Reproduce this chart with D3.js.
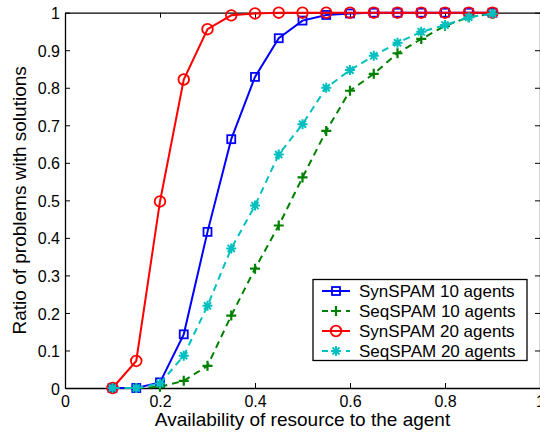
<!DOCTYPE html>
<html><head><meta charset="utf-8">
<script src="https://cdn.jsdelivr.net/npm/d3@7"></script>
<style>
html,body{margin:0;padding:0;background:#fff;}
svg{display:block;font-family:"Liberation Sans",Arial,Helvetica,sans-serif;}
</style></head>
<body><svg id="c" width="540" height="432"></svg>
<script>
const xValues = [0.1,0.15,0.2,0.25,0.3,0.35,0.4,0.45,0.5,0.55,0.6,0.65,0.7,0.75,0.8,0.85,0.9];
const synSpam10 = [0,0,0.015,0.143,0.416,0.663,0.829,0.932,0.979,0.994,0.998,1,1,1,1,1,1];
const seqSpam10 = [0,0,0.003,0.019,0.059,0.193,0.318,0.433,0.561,0.685,0.792,0.837,0.892,0.930,0.965,0.988,0.997];
const synSpam20 = [0,0.072,0.497,0.822,0.956,0.993,0.998,1,1,1,1,1,1,1,1,1,1];
const seqSpam20 = [0,0,0.012,0.086,0.219,0.372,0.486,0.622,0.703,0.800,0.847,0.885,0.920,0.949,0.967,0.988,0.997];
const seriesNames = ["SynSPAM 10 agents","SeqSPAM 10 agents","SynSPAM 20 agents","SeqSPAM 20 agents"];
const xTicks = [0,0.2,0.4,0.6,0.8,1];
const yTicks = [0,0.1,0.2,0.3,0.4,0.5,0.6,0.7,0.8,0.9,1];
const xLabel = "Availability of resource to the agent";
const yLabel = "Ratio of problems with solutions";

const series = [
  {name: seriesNames[0], values: synSpam10, color: "#0000ff", dash: null, marker: "square"},
  {name: seriesNames[1], values: seqSpam10, color: "#008000", dash: "7,5", marker: "plus"},
  {name: seriesNames[2], values: synSpam20, color: "#ff0000", dash: null, marker: "circle"},
  {name: seriesNames[3], values: seqSpam20, color: "#00bfbf", dash: "7,5", marker: "star"}
];

const L = 65, R = 540, T = 12.7, B = 388;
const svg = d3.select("#c");
const x = d3.scaleLinear().domain([0,1]).range([L,R]);
const y = d3.scaleLinear().domain([0,1]).range([B,T]);

const fmt = d => d === 0 ? "0" : d === 1 ? "1" : d3.format(".1f")(d);
const tickLen = 5;

// axes (inward ticks, MATLAB-style box)
const gx = svg.append("g").attr("transform", `translate(0,${B})`)
  .call(d3.axisBottom(x).tickValues(xTicks).tickFormat(fmt).tickSizeInner(-tickLen).tickSizeOuter(0).tickPadding(8));
const gxt = svg.append("g").attr("transform", `translate(0,${T})`)
  .call(d3.axisTop(x).tickValues(xTicks).tickFormat("").tickSizeInner(-tickLen).tickSizeOuter(0));
const gy = svg.append("g").attr("transform", `translate(${L},0)`)
  .call(d3.axisLeft(y).tickValues(yTicks).tickFormat(fmt).tickSizeInner(-tickLen).tickSizeOuter(0).tickPadding(5));
const gyr = svg.append("g").attr("transform", `translate(${R},0)`)
  .call(d3.axisRight(y).tickValues(yTicks).tickFormat("").tickSizeInner(-tickLen).tickSizeOuter(0));
[gx,gxt,gy,gyr].forEach(g => {
  g.selectAll("path").attr("stroke","#000").attr("stroke-width",1.3);
  g.selectAll("line").attr("stroke","#000").attr("stroke-width",1);
  g.selectAll("text").attr("fill","#000").style("font-size","16px").style("font-family","'Liberation Sans',Arial,sans-serif");
});
gy.selectAll("text").attr("dy","0.38em");

// axis labels
svg.append("text").attr("x",(L+R)/2).attr("y",426).attr("text-anchor","middle")
  .style("font-size","19px").text(xLabel);
svg.append("text").attr("transform",`translate(26,${(T+B)/2}) rotate(-90)`).attr("text-anchor","middle")
  .style("font-size","19px").text(yLabel);

// markers
function drawMarker(g, type, cx, cy, color) {
  if (type === "square") {
    g.append("rect").attr("x",cx-4).attr("y",cy-4).attr("width",8).attr("height",8)
      .attr("fill","none").attr("stroke",color).attr("stroke-width",1.8);
  } else if (type === "circle") {
    g.append("circle").attr("cx",cx).attr("cy",cy).attr("r",5.3)
      .attr("fill","none").attr("stroke",color).attr("stroke-width",1.8);
  } else if (type === "plus") {
    g.append("path").attr("d",`M${cx-5},${cy}H${cx+5}M${cx},${cy-5}V${cy+5}`)
      .attr("stroke",color).attr("stroke-width",2.2).attr("fill","none");
  } else if (type === "star") {
    const r = 5, d = r*0.71;
    g.append("path").attr("d",`M${cx-r},${cy}H${cx+r}M${cx},${cy-r}V${cy+r}M${cx-d},${cy-d}L${cx+d},${cy+d}M${cx-d},${cy+d}L${cx+d},${cy-d}`)
      .attr("stroke",color).attr("stroke-width",2).attr("fill","none");
  }
}

const line = d3.line().x(d => x(d[0])).y(d => y(d[1]));
const plot = svg.append("g");
series.forEach(s => {
  const pts = xValues.map((xv,i) => [xv, s.values[i]]);
  const g = plot.append("g");
  g.append("path").datum(pts).attr("d", line).attr("fill","none")
    .attr("stroke", s.color).attr("stroke-width", 2)
    .attr("stroke-dasharray", s.dash);
  pts.forEach(p => drawMarker(g, s.marker, x(p[0]), y(p[1]), s.color));
});

// legend
const lg = svg.append("g");
const lx = 313, ly = 279.5, lw = 214, lh = 81;
lg.append("rect").attr("x",lx).attr("y",ly).attr("width",lw).attr("height",lh)
  .attr("fill","#fff").attr("stroke","#000").attr("stroke-width",1.3);
series.forEach((s,i) => {
  const cy = ly + 11.5 + i*20;
  lg.append("line").attr("x1",lx+9).attr("x2",lx+37).attr("y1",cy).attr("y2",cy)
    .attr("stroke",s.color).attr("stroke-width",2).attr("stroke-dasharray", s.dash ? "6,6" : null);
  drawMarker(lg, s.marker, lx+23, cy, s.color);
  lg.append("text").attr("x",lx+46).attr("y",cy).attr("dy","0.36em")
    .style("font-size","17px").text(s.name);
});
</script></body></html>
